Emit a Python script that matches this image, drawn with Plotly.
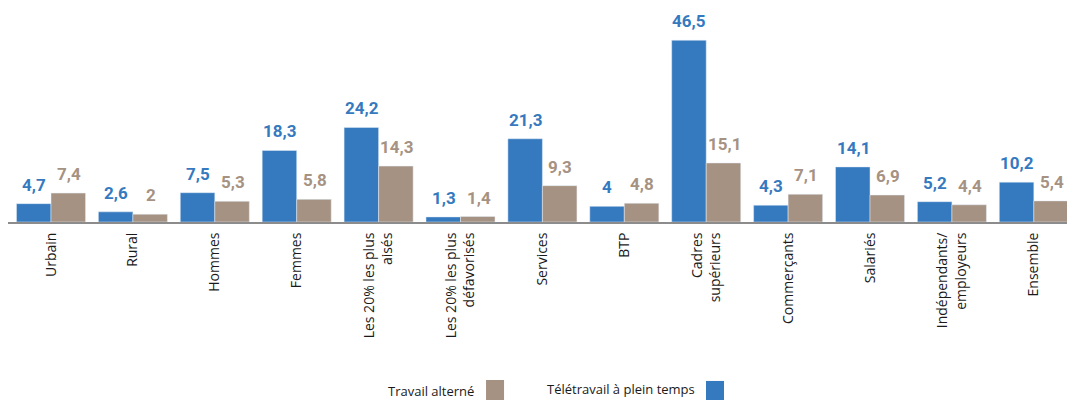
import plotly.graph_objects as go

categories = ["Urbain", "Rural", "Hommes", "Femmes", "Les 20% les plus<br>aisés",
              "Les 20% les plus<br>défavorisés", "Services", "BTP", "Cadres<br>supérieurs",
              "Commerçants", "Salariés", "Indépendants/<br>employeurs", "Ensemble"]
teletravail = [4.7, 2.6, 7.5, 18.3, 24.2, 1.3, 21.3, 4, 46.5, 4.3, 14.1, 5.2, 10.2]
alterne = [7.4, 2, 5.3, 5.8, 14.3, 1.4, 9.3, 4.8, 15.1, 7.1, 6.9, 4.4, 5.4]

BLUE = "#357ABF"
BROWN = "#A69282"
x = list(range(len(categories)))


def fmt(v):
    s = ("%g" % v).replace(".", ",")
    return s


fig = go.Figure()
fig.add_trace(go.Bar(x=x, y=teletravail, marker_color=BLUE, name="Télétravail à plein temps",
                     hoverinfo="skip"))
fig.add_trace(go.Bar(x=x, y=alterne, marker_color=BROWN, name="Travail alterné",
                     hoverinfo="skip"))

label_font = dict(family="Roboto", size=17, weight="bold")
for xi, v in zip(x, teletravail):
    fig.add_annotation(x=xi, y=v, xref="x", yref="y", text=fmt(v), showarrow=False,
                       xshift=-17, yshift=7, yanchor="bottom",
                       font=dict(color=BLUE, **label_font))
for xi, v in zip(x, alterne):
    fig.add_annotation(x=xi, y=v, xref="x", yref="y", text=fmt(v), showarrow=False,
                       xshift=18, yshift=7, yanchor="bottom",
                       font=dict(color=BROWN, **label_font))

# legend drawn as text followed by a colour square
legend_font = dict(family="Open Sans", size=13, color="#1a1a1a")
fig.add_annotation(x=0.4419, y=-0.762, xref="paper", yref="paper", text="Travail alterné",
                   showarrow=False, xanchor="right", yanchor="middle", font=legend_font)
fig.add_annotation(x=0.6506, y=-0.752, xref="paper", yref="paper",
                   text="Télétravail à plein temps", showarrow=False, xanchor="right",
                   yanchor="middle", font=legend_font)
fig.add_shape(type="rect", xref="paper", yref="paper", x0=0.4514, x1=0.4684,
              y0=-0.7117, y1=-0.81, fillcolor=BROWN, line_width=0)
fig.add_shape(type="rect", xref="paper", yref="paper", x0=0.6591, x1=0.6761,
              y0=-0.716, y1=-0.81, fillcolor=BLUE, line_width=0)

fig.update_layout(
    width=1067, height=400,
    margin=dict(l=8, r=0, t=0, b=178),
    barmode="group", bargap=0.157, bargroupgap=0,
    showlegend=False,
    plot_bgcolor="white", paper_bgcolor="white",
    xaxis=dict(range=[-0.525, 12.405], tickmode="array", tickvals=x, ticktext=categories,
               tickangle=-90, showline=True, linecolor="#8c8c8c", linewidth=2,
               showgrid=False, zeroline=False, ticks="outside", ticklen=3,
               tickcolor="rgba(0,0,0,0)",
               tickfont=dict(family="Open Sans", size=14, color="#1a1a1a")),
    yaxis=dict(range=[0, 56.8], visible=False, showgrid=False, zeroline=False),
)

fig.write_html("out.html")
